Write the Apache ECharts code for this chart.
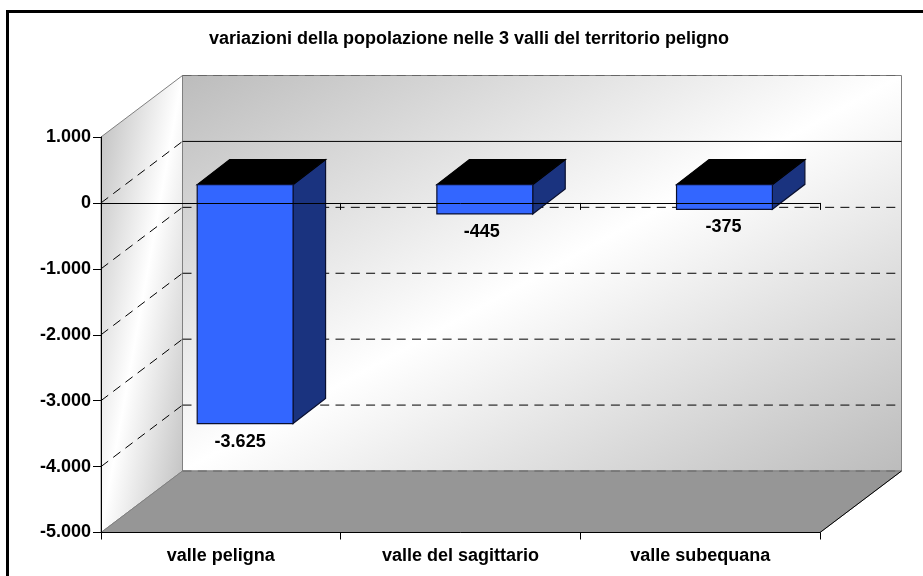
<!DOCTYPE html>
<html>
<head>
<meta charset="utf-8">
<style>html,body{margin:0;padding:0;background:#fff;overflow:hidden}#c{width:923px;height:576px}</style>
<script src="https://cdn.jsdelivr.net/npm/echarts@6/dist/echarts.min.js"></script>
</head>
<body>
<div id="c"></div>
<script>
const titleText = 'variazioni della popolazione nelle 3 valli del territorio peligno';
const categories = ['valle peligna', 'valle del sagittario', 'valle subequana'];
const values = [-3625, -445, -375];
const yTicks = [1000, 0, -1000, -2000, -3000, -4000, -5000];

const FONT = '"Liberation Sans", Arial, sans-serif';
const WALL_DX = 81.5, WALL_DY = -61.5;   // full depth of the 3D box
const BAR_DX0 = 24.3, BAR_DY0 = -18.3;   // gap in front of the bars
const BAR_DX = 32.5, BAR_DY = -25;       // depth of a bar
const DASH = [9, 6.3];

function fmt(v) {
  const s = String(Math.abs(v)).replace(/\B(?=(\d{3})+$)/g, '.');
  return (v < 0 ? '-' : '') + s;
}
function diag(x0, y0, x1, y1) {
  const w = x1 - x0, h = y1 - y0, cx = (x0 + x1) / 2, cy = (y0 + y1) / 2;
  const l = Math.sqrt(w * w + h * h), nx = h / l, ny = w / l, d = w * h / l;
  return new echarts.graphic.LinearGradient(cx - nx * d, cy - ny * d, cx + nx * d, cy + ny * d, [
    { offset: 0, color: '#bcbcbc' },
    { offset: 0.5, color: '#ffffff' },
    { offset: 1, color: '#bcbcbc' }
  ], true);
}
function poly(points, fill, stroke, lw) {
  return { type: 'polygon', shape: { points }, style: { fill, stroke: stroke || 'none', lineWidth: lw || 0 } };
}
function seg(x1, y1, x2, y2, stroke, dash, lw) {
  return { type: 'line', shape: { x1, y1, x2, y2 }, style: { stroke, lineWidth: lw || 1, lineDash: dash || null, fill: 'none' } };
}

function renderBox(params, api) {
  const cs = params.coordSys;
  const L = cs.x, R = cs.x + cs.width, T = cs.y, B = cs.y + cs.height;
  const bx = L + WALL_DX, by = T + WALL_DY, bR = R + WALL_DX, bB = B + WALL_DY;
  const kids = [];
  kids.push(poly([[bx, by], [bR, by], [bR, bB], [bx, bB]], diag(bx, by, bR, bB), '#808080', 1));
  kids.push(poly([[L, T], [bx, by], [bx, bB], [L, B]], diag(L, by, bx, B), '#808080', 1));
  kids.push(poly([[L, B], [R, B], [bR, bB], [bx, bB]], '#969696', '#808080', 1));
  kids.push(seg(R, B, bR, bB, '#000', null, 1));
  yTicks.forEach(function (v) {
    const y = api.coord([0, v])[1];
    const ends = v === yTicks[0] || v === yTicks[yTicks.length - 1];
    if (!ends) kids.push(seg(L, y, bx, y + WALL_DY, '#000', DASH, 1));
    if (v === 0) kids.push(seg(bx, y + WALL_DY, bR, y + WALL_DY, '#000', null, 1));
    else kids.push(seg(bx, y + WALL_DY, bR, y + WALL_DY, ends ? '#666' : '#000', DASH, 1));
  });
  return { type: 'group', children: kids };
}

function renderBar(params, api) {
  const idx = api.value(0), val = api.value(1);
  const band = api.size([1, 0])[0], w = band * 0.4;
  const c0 = api.coord([idx, 0]), c1 = api.coord([idx, val]);
  const x0 = c0[0] - w / 2 + BAR_DX0, x1 = x0 + w;
  const yT = c0[1] + BAR_DY0, yB = c1[1] + BAR_DY0;
  const line = '#0a1030';
  return {
    type: 'group',
    children: [
      poly([[x1, yT], [x1 + BAR_DX, yT + BAR_DY], [x1 + BAR_DX, yB + BAR_DY], [x1, yB]], '#1a337f', line, 1.2),
      poly([[x0, yT], [x0 + BAR_DX, yT + BAR_DY], [x1 + BAR_DX, yT + BAR_DY], [x1, yT]], '#000000', '#000', 1.2),
      poly([[x0, yT], [x1, yT], [x1, yB], [x0, yB]], '#3366ff', line, 1.2),
      { type: 'text', x: (x0 + x1) / 2 - 5 + 2 * idx, y: yB + 18, style: { text: fmt(val), fill: '#000', font: 'bold 18px ' + FONT, textAlign: 'center', textVerticalAlign: 'middle' } }
    ]
  };
}

const chart = echarts.init(document.getElementById('c'), null, { renderer: 'canvas' });
chart.setOption({
  animation: false,
  backgroundColor: '#ffffff',
  textStyle: { fontFamily: FONT },
  title: {
    text: titleText, left: 464, top: 25, textAlign: 'center',
    textStyle: { fontSize: 18, fontWeight: 'bold', color: '#000', fontFamily: FONT }
  },
  graphic: [{
    type: 'rect', shape: { x: 7.5, y: 11.5, width: 1000, height: 1000 },
    style: { fill: 'none', stroke: '#000', lineWidth: 3 }, z: 100
  }],
  grid: { left: 101, top: 137, width: 719, height: 395.5, containLabel: false },
  xAxis: [{
    type: 'category', data: categories, position: 'bottom',
    axisLine: { onZero: false, lineStyle: { color: '#000', width: 1 } },
    axisTick: { show: true, alignWithLabel: false, length: 7, lineStyle: { color: '#000' } },
    axisLabel: { color: '#000', fontWeight: 'bold', fontSize: 18, margin: 15, fontFamily: FONT },
    splitLine: { show: false }, z: 10
  }, {
    type: 'category', data: categories, position: 'bottom',
    axisLine: { onZero: true, lineStyle: { color: '#000', width: 1 } },
    axisTick: { show: true, length: 7, lineStyle: { color: '#000' } },
    axisLabel: { show: false },
    splitLine: { show: false }, z: 10
  }],
  yAxis: {
    type: 'value', min: -5000, max: 1000, interval: 1000,
    axisLine: { show: true, onZero: false, lineStyle: { color: '#000', width: 1 } },
    axisTick: { show: true, length: 8, lineStyle: { color: '#000' } },
    axisLabel: { color: '#000', fontWeight: 'bold', fontSize: 18, margin: 10, fontFamily: FONT, formatter: fmt },
    splitLine: { show: false }, z: 10
  },
  series: [
    { type: 'custom', name: 'box', xAxisIndex: 0, renderItem: renderBox, data: [[0, 0]], z: 1, silent: true },
    { type: 'custom', name: 'bars', xAxisIndex: 0, renderItem: renderBar, data: values.map(function (v, i) { return [i, v]; }), z: 2, silent: true }
  ]
});
</script>
</body>
</html>
